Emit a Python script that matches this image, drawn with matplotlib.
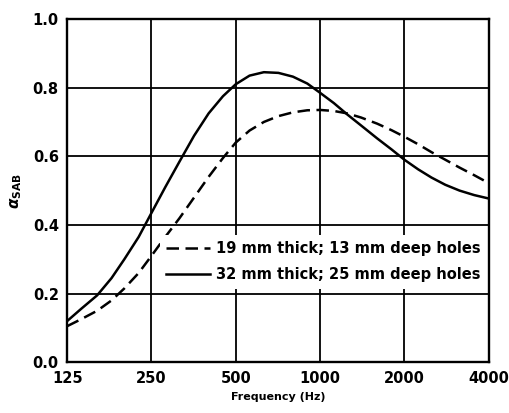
import matplotlib
matplotlib.use("Agg")
import matplotlib.pyplot as plt

freq = [125, 140, 160, 180, 200, 225, 250, 280, 315, 355, 400, 450, 500, 560, 630, 710,
        800, 900, 1000, 1120, 1250, 1400, 1600, 1800, 2000, 2240, 2500, 2800, 3150, 3550, 4000]
alpha_19mm = [0.105, 0.125, 0.15, 0.18, 0.215, 0.26, 0.31, 0.365, 0.42, 0.48, 0.54, 0.595, 0.64,
              0.675, 0.70, 0.717, 0.728, 0.734, 0.735, 0.732, 0.725, 0.713, 0.695, 0.676, 0.657,
              0.635, 0.612, 0.59, 0.567, 0.545, 0.522]
alpha_32mm = [0.12, 0.155, 0.195, 0.245, 0.30, 0.365, 0.435, 0.51, 0.585, 0.66, 0.725, 0.775, 0.81,
              0.835, 0.845, 0.843, 0.832, 0.812, 0.785, 0.755, 0.722, 0.69, 0.652, 0.62, 0.59,
              0.562, 0.538, 0.517, 0.50, 0.487, 0.477]
labels = ["19 mm thick; 13 mm deep holes", "32 mm thick; 25 mm deep holes"]
xticks = [125, 250, 500, 1000, 2000, 4000]
yticks = [0.0, 0.2, 0.4, 0.6, 0.8, 1.0]

plt.rcParams['font.family'] = ['DejaVu Sans']
plt.rcParams['mathtext.fontset'] = 'custom'
plt.rcParams['mathtext.it'] = 'DejaVu Sans:italic:bold'
plt.rcParams['mathtext.rm'] = 'DejaVu Sans:bold'
plt.rcParams['mathtext.bf'] = 'DejaVu Sans:bold'

fig = plt.figure(figsize=(5.09, 4.13), dpi=100)
ax = fig.add_axes([0.132, 0.123, 0.828, 0.831])

ax.plot(freq, alpha_19mm, color='black', lw=1.8, linestyle=(0, (5, 2.6)),
        label=labels[0], solid_joinstyle='round')
ax.plot(freq, alpha_32mm, color='black', lw=1.8, label=labels[1],
        solid_joinstyle='round')

ax.set_xscale('log')
ax.set_xlim(125, 4000)
ax.set_ylim(0, 1.0)
ax.set_xticks(xticks)
ax.set_xticklabels([str(t) for t in xticks])
ax.minorticks_off()
ax.set_yticks(yticks)
ax.set_yticklabels([f"{t:.1f}" for t in yticks])
ax.grid(True, color='black', lw=1.3)
ax.set_axisbelow(True)
for s in ax.spines.values():
    s.set_linewidth(1.7)
    s.set_zorder(6)
ax.tick_params(length=0, labelsize=10.5, pad=6)
for lab in ax.get_xticklabels() + ax.get_yticklabels():
    lab.set_fontweight('bold')
ax.set_xlabel("Frequency (Hz)", fontsize=8, fontweight='bold', labelpad=5)
ax.set_ylabel(r"$\alpha_{\mathrm{SAB}}$", fontsize=11, labelpad=6)

leg = ax.legend(loc='center right', bbox_to_anchor=(1.0, 0.293), frameon=True, framealpha=1,
                edgecolor='none', handlelength=3.0, handletextpad=0.4,
                borderpad=0.45, labelspacing=0.75, borderaxespad=0.1,
                prop={'size': 10.5, 'weight': 'bold'})
leg.get_frame().set_linewidth(0)

fig.savefig("out.png", dpi=100)
